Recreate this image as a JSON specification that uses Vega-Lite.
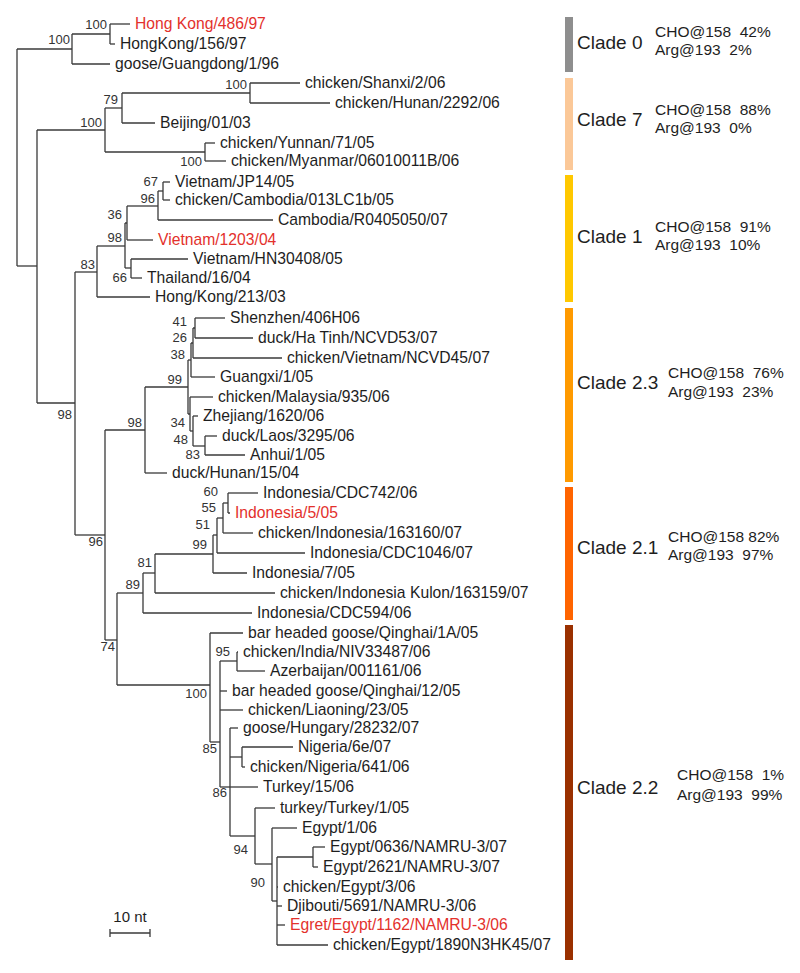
{
  "$schema": "https://vega.github.io/schema/vega-lite/v6.json",
  "width": 800,
  "height": 973,
  "padding": 0,
  "autosize": {"type": "fit", "contains": "padding"},
  "background": "white",
  "config": {"view": {"stroke": null}, "text": {"font": "Liberation Sans"}},
  "datasets": {
    "leaves": [
      {"name": "Hong Kong/486/97", "p": 110, "tip": 130, "y": 24, "hl": "y"},
      {"name": "HongKong/156/97", "p": 110, "tip": 115, "y": 44, "hl": "n"},
      {"name": "goose/Guangdong/1/96", "p": 72, "tip": 110, "y": 64, "hl": "n"},
      {"name": "chicken/Shanxi/2/06", "p": 250, "tip": 300, "y": 83, "hl": "n"},
      {"name": "chicken/Hunan/2292/06", "p": 250, "tip": 330, "y": 103, "hl": "n"},
      {"name": "Beijing/01/03", "p": 122, "tip": 155, "y": 123, "hl": "n"},
      {"name": "chicken/Yunnan/71/05", "p": 205, "tip": 215, "y": 143, "hl": "n"},
      {"name": "chicken/Myanmar/06010011B/06", "p": 205, "tip": 226, "y": 161, "hl": "n"},
      {"name": "Vietnam/JP14/05", "p": 163, "tip": 170, "y": 182, "hl": "n"},
      {"name": "chicken/Cambodia/013LC1b/05", "p": 163, "tip": 170, "y": 200, "hl": "n"},
      {"name": "Cambodia/R0405050/07", "p": 158, "tip": 273, "y": 220, "hl": "n"},
      {"name": "Vietnam/1203/04", "p": 127, "tip": 153, "y": 240, "hl": "y"},
      {"name": "Vietnam/HN30408/05", "p": 131, "tip": 188, "y": 259, "hl": "n"},
      {"name": "Thailand/16/04", "p": 131, "tip": 142, "y": 278, "hl": "n"},
      {"name": "Hong/Kong/213/03", "p": 97, "tip": 150, "y": 297, "hl": "n"},
      {"name": "Shenzhen/406H06", "p": 195, "tip": 225, "y": 318, "hl": "n"},
      {"name": "duck/Ha Tinh/NCVD53/07", "p": 195, "tip": 253, "y": 338, "hl": "n"},
      {"name": "chicken/Vietnam/NCVD45/07", "p": 193, "tip": 282, "y": 358, "hl": "n"},
      {"name": "Guangxi/1/05", "p": 191, "tip": 215, "y": 377, "hl": "n"},
      {"name": "chicken/Malaysia/935/06", "p": 190, "tip": 213, "y": 397, "hl": "n"},
      {"name": "Zhejiang/1620/06", "p": 193, "tip": 198, "y": 416, "hl": "n"},
      {"name": "duck/Laos/3295/06", "p": 205, "tip": 217, "y": 436, "hl": "n"},
      {"name": "Anhui/1/05", "p": 205, "tip": 245, "y": 455, "hl": "n"},
      {"name": "duck/Hunan/15/04", "p": 145, "tip": 167, "y": 473, "hl": "n"},
      {"name": "Indonesia/CDC742/06", "p": 228, "tip": 258, "y": 493, "hl": "n"},
      {"name": "Indonesia/5/05", "p": 228, "tip": 230, "y": 513, "hl": "y"},
      {"name": "chicken/Indonesia/163160/07", "p": 223, "tip": 253, "y": 533, "hl": "n"},
      {"name": "Indonesia/CDC1046/07", "p": 217, "tip": 305, "y": 553, "hl": "n"},
      {"name": "Indonesia/7/05", "p": 213, "tip": 247, "y": 573, "hl": "n"},
      {"name": "chicken/Indonesia Kulon/163159/07", "p": 155, "tip": 275, "y": 593, "hl": "n"},
      {"name": "Indonesia/CDC594/06", "p": 143, "tip": 252, "y": 613, "hl": "n"},
      {"name": "bar headed goose/Qinghai/1A/05", "p": 210, "tip": 243, "y": 633, "hl": "n"},
      {"name": "chicken/India/NIV33487/06", "p": 237, "tip": 238, "y": 652, "hl": "n"},
      {"name": "Azerbaijan/001161/06", "p": 237, "tip": 265, "y": 671, "hl": "n"},
      {"name": "bar headed goose/Qinghai/12/05", "p": 220, "tip": 227, "y": 691, "hl": "n"},
      {"name": "chicken/Liaoning/23/05", "p": 220, "tip": 243, "y": 710, "hl": "n"},
      {"name": "goose/Hungary/28232/07", "p": 230, "tip": 238, "y": 728, "hl": "n"},
      {"name": "Nigeria/6e/07", "p": 242, "tip": 293, "y": 747, "hl": "n"},
      {"name": "chicken/Nigeria/641/06", "p": 242, "tip": 245, "y": 767, "hl": "n"},
      {"name": "Turkey/15/06", "p": 230, "tip": 258, "y": 787, "hl": "n"},
      {"name": "turkey/Turkey/1/05", "p": 255, "tip": 275, "y": 808, "hl": "n"},
      {"name": "Egypt/1/06", "p": 272, "tip": 297, "y": 828, "hl": "n"},
      {"name": "Egypt/0636/NAMRU-3/07", "p": 313, "tip": 325, "y": 847, "hl": "n"},
      {"name": "Egypt/2621/NAMRU-3/07", "p": 313, "tip": 318, "y": 867, "hl": "n"},
      {"name": "chicken/Egypt/3/06", "p": 277, "tip": 278, "y": 887, "hl": "n"},
      {"name": "Djibouti/5691/NAMRU-3/06", "p": 277, "tip": 282, "y": 906, "hl": "n"},
      {"name": "Egret/Egypt/1162/NAMRU-3/06", "p": 277, "tip": 285, "y": 925, "hl": "y"},
      {"name": "chicken/Egypt/1890N3HK45/07", "p": 277, "tip": 328, "y": 945, "hl": "n"}
    ],
    "nodes": [
      {"x": 110, "px": 72, "top": 24, "bot": 44, "ly": 34},
      {"x": 72, "px": 17, "top": 34, "bot": 64, "ly": 49},
      {"x": 250, "px": 122, "top": 83, "bot": 103, "ly": 93},
      {"x": 122, "px": 105, "top": 93, "bot": 123, "ly": 108},
      {"x": 205, "px": 105, "top": 143, "bot": 161, "ly": 152},
      {"x": 105, "px": 37, "top": 108, "bot": 152, "ly": 130},
      {"x": 163, "px": 158, "top": 182, "bot": 200, "ly": 191},
      {"x": 158, "px": 127, "top": 191, "bot": 220, "ly": 206},
      {"x": 127, "px": 125, "top": 206, "bot": 240, "ly": 223},
      {"x": 131, "px": 125, "top": 259, "bot": 278, "ly": 268},
      {"x": 125, "px": 97, "top": 223, "bot": 268, "ly": 246},
      {"x": 97, "px": 75, "top": 246, "bot": 297, "ly": 272},
      {"x": 195, "px": 193, "top": 318, "bot": 338, "ly": 328},
      {"x": 193, "px": 191, "top": 328, "bot": 358, "ly": 343},
      {"x": 191, "px": 188, "top": 343, "bot": 377, "ly": 360},
      {"x": 205, "px": 193, "top": 436, "bot": 455, "ly": 446},
      {"x": 193, "px": 190, "top": 416, "bot": 446, "ly": 431},
      {"x": 190, "px": 188, "top": 397, "bot": 431, "ly": 414},
      {"x": 188, "px": 145, "top": 360, "bot": 414, "ly": 387},
      {"x": 145, "px": 105, "top": 387, "bot": 473, "ly": 430},
      {"x": 228, "px": 223, "top": 493, "bot": 513, "ly": 503},
      {"x": 223, "px": 217, "top": 503, "bot": 533, "ly": 518},
      {"x": 217, "px": 213, "top": 518, "bot": 553, "ly": 535},
      {"x": 213, "px": 155, "top": 535, "bot": 573, "ly": 554},
      {"x": 155, "px": 143, "top": 554, "bot": 593, "ly": 573},
      {"x": 143, "px": 117, "top": 573, "bot": 613, "ly": 593},
      {"x": 237, "px": 220, "top": 652, "bot": 671, "ly": 661},
      {"x": 242, "px": 230, "top": 747, "bot": 767, "ly": 757},
      {"x": 313, "px": 277, "top": 847, "bot": 867, "ly": 857},
      {"x": 277, "px": 272, "top": 857, "bot": 945, "ly": 901},
      {"x": 272, "px": 255, "top": 828, "bot": 901, "ly": 864},
      {"x": 255, "px": 230, "top": 808, "bot": 864, "ly": 836},
      {"x": 230, "px": 220, "top": 728, "bot": 836, "ly": 787},
      {"x": 220, "px": 210, "top": 661, "bot": 787, "ly": 742},
      {"x": 210, "px": 117, "top": 633, "bot": 742, "ly": 685},
      {"x": 117, "px": 105, "top": 593, "bot": 685, "ly": 640},
      {"x": 105, "px": 75, "top": 430, "bot": 640, "ly": 535},
      {"x": 75, "px": 37, "top": 272, "bot": 535, "ly": 403},
      {"x": 37, "px": 17, "top": 130, "bot": 403, "ly": 266},
      {"x": 17, "px": 17, "top": 49, "bot": 266, "ly": 157}
    ],
    "boot": [
      {"v": "100", "x": 107, "y": 25},
      {"v": "100", "x": 70, "y": 40},
      {"v": "100", "x": 247, "y": 85},
      {"v": "79", "x": 118, "y": 100},
      {"v": "100", "x": 102, "y": 123},
      {"v": "100", "x": 202, "y": 162},
      {"v": "67", "x": 158, "y": 182},
      {"v": "96", "x": 155, "y": 199},
      {"v": "36", "x": 122, "y": 215},
      {"v": "98", "x": 122, "y": 238},
      {"v": "83", "x": 95, "y": 265},
      {"v": "66", "x": 127, "y": 278},
      {"v": "98", "x": 72, "y": 415},
      {"v": "41", "x": 187, "y": 322},
      {"v": "26", "x": 187, "y": 338},
      {"v": "38", "x": 185, "y": 355},
      {"v": "99", "x": 182, "y": 380},
      {"v": "98", "x": 142, "y": 423},
      {"v": "34", "x": 185, "y": 423},
      {"v": "48", "x": 188, "y": 440},
      {"v": "83", "x": 200, "y": 455},
      {"v": "96", "x": 103, "y": 542},
      {"v": "60", "x": 218, "y": 492},
      {"v": "55", "x": 216, "y": 508},
      {"v": "51", "x": 210, "y": 525},
      {"v": "99", "x": 207, "y": 545},
      {"v": "81", "x": 152, "y": 563},
      {"v": "89", "x": 140, "y": 585},
      {"v": "74", "x": 115, "y": 647},
      {"v": "100", "x": 207, "y": 694},
      {"v": "95", "x": 230, "y": 652},
      {"v": "85", "x": 217, "y": 749},
      {"v": "86", "x": 227, "y": 793},
      {"v": "94", "x": 248, "y": 850},
      {"v": "90", "x": 265, "y": 883}
    ],
    "clades": [
      {"clade": "Clade 0", "x": 565, "x2": 573, "top": 17, "bot": 72, "ly": 43},
      {"clade": "Clade 7", "x": 565, "x2": 573, "top": 78, "bot": 170, "ly": 120},
      {"clade": "Clade 1", "x": 565, "x2": 573, "top": 175, "bot": 302, "ly": 237},
      {"clade": "Clade 2.3", "x": 565, "x2": 573, "top": 308, "bot": 482, "ly": 383},
      {"clade": "Clade 2.1", "x": 565, "x2": 573, "top": 487, "bot": 620, "ly": 548},
      {"clade": "Clade 2.2", "x": 565, "x2": 573, "top": 625, "bot": 960, "ly": 788}
    ],
    "notes": [
      {"t": "CHO@158\u00a0 42%", "x": 655, "y": 32},
      {"t": "Arg@193\u00a0 2%", "x": 655, "y": 50},
      {"t": "CHO@158\u00a0 88%", "x": 655, "y": 110},
      {"t": "Arg@193\u00a0 0%", "x": 655, "y": 128},
      {"t": "CHO@158\u00a0 91%", "x": 655, "y": 227},
      {"t": "Arg@193\u00a0 10%", "x": 655, "y": 245},
      {"t": "CHO@158\u00a0 76%", "x": 668, "y": 373},
      {"t": "Arg@193\u00a0 23%", "x": 668, "y": 392},
      {"t": "CHO@158 82%", "x": 668, "y": 537},
      {"t": "Arg@193\u00a0 97%", "x": 668, "y": 555},
      {"t": "CHO@158\u00a0 1%", "x": 677, "y": 775},
      {"t": "Arg@193\u00a0 99%", "x": 677, "y": 795}
    ],
    "scalebar": [
      {"x": 110, "x2": 150, "y": 933, "y2": 933},
      {"x": 110, "x2": 110, "y": 929, "y2": 937},
      {"x": 150, "x2": 150, "y": 929, "y2": 937}
    ],
    "scaletext": [{"t": "10 nt", "x": 130, "y": 917}]
  },
  "layer": [
    {
      "data": {"name": "leaves"},
      "mark": {"type": "rule", "color": "#3a3a3a", "strokeWidth": 1.3},
      "encoding": {
        "x": {"field": "p", "type": "quantitative", "scale": {"domain": [0, 800], "nice": false, "zero": false}, "axis": null},
        "x2": {"field": "tip"},
        "y": {"field": "y", "type": "quantitative", "scale": {"domain": [0, 973], "nice": false, "zero": false, "reverse": true}, "axis": null},
        "y2": {"field": "y"}
      }
    },
    {
      "data": {"name": "nodes"},
      "mark": {"type": "rule", "color": "#3a3a3a", "strokeWidth": 1.3},
      "encoding": {
        "x": {"field": "x", "type": "quantitative", "scale": {"domain": [0, 800], "nice": false, "zero": false}, "axis": null},
        "y": {"field": "top", "type": "quantitative", "scale": {"domain": [0, 973], "nice": false, "zero": false, "reverse": true}, "axis": null},
        "y2": {"field": "bot"}
      }
    },
    {
      "data": {"name": "nodes"},
      "mark": {"type": "rule", "color": "#3a3a3a", "strokeWidth": 1.3},
      "encoding": {
        "x": {"field": "px", "type": "quantitative", "scale": {"domain": [0, 800], "nice": false, "zero": false}, "axis": null},
        "x2": {"field": "x"},
        "y": {"field": "ly", "type": "quantitative", "scale": {"domain": [0, 973], "nice": false, "zero": false, "reverse": true}, "axis": null},
        "y2": {"field": "ly"}
      }
    },
    {
      "data": {"name": "leaves"},
      "mark": {"type": "text", "align": "left", "baseline": "middle", "dx": 5, "fontSize": 15.7},
      "encoding": {
        "x": {"field": "tip", "type": "quantitative", "scale": {"domain": [0, 800], "nice": false, "zero": false}, "axis": null},
        "y": {"field": "y", "type": "quantitative", "scale": {"domain": [0, 973], "nice": false, "zero": false, "reverse": true}, "axis": null},
        "text": {"field": "name"},
        "color": {"field": "hl", "type": "nominal", "scale": {"domain": ["n", "y"], "range": ["#1e1e1e", "#e3312c"]}, "legend": null}
      }
    },
    {
      "data": {"name": "boot"},
      "mark": {"type": "text", "align": "right", "baseline": "middle", "fontSize": 13, "color": "#333333"},
      "encoding": {
        "x": {"field": "x", "type": "quantitative", "scale": {"domain": [0, 800], "nice": false, "zero": false}, "axis": null},
        "y": {"field": "y", "type": "quantitative", "scale": {"domain": [0, 973], "nice": false, "zero": false, "reverse": true}, "axis": null},
        "text": {"field": "v"}
      }
    },
    {
      "data": {"name": "clades"},
      "mark": {"type": "rect"},
      "encoding": {
        "x": {"field": "x", "type": "quantitative", "scale": {"domain": [0, 800], "nice": false, "zero": false}, "axis": null},
        "x2": {"field": "x2"},
        "y": {"field": "top", "type": "quantitative", "scale": {"domain": [0, 973], "nice": false, "zero": false, "reverse": true}, "axis": null},
        "y2": {"field": "bot"},
        "fill": {"field": "clade", "type": "nominal", "scale": {"domain": ["Clade 0", "Clade 7", "Clade 1", "Clade 2.3", "Clade 2.1", "Clade 2.2"], "range": ["#8e8e8e", "#fbc898", "#ffc800", "#ff9a00", "#ff6400", "#9a3000"]}, "legend": null}
      }
    },
    {
      "data": {"name": "clades"},
      "mark": {"type": "text", "align": "left", "baseline": "middle", "fontSize": 19, "dx": 12, "color": "#1e1e1e"},
      "encoding": {
        "x": {"field": "x", "type": "quantitative", "scale": {"domain": [0, 800], "nice": false, "zero": false}, "axis": null},
        "y": {"field": "ly", "type": "quantitative", "scale": {"domain": [0, 973], "nice": false, "zero": false, "reverse": true}, "axis": null},
        "text": {"field": "clade"}
      }
    },
    {
      "data": {"name": "notes"},
      "mark": {"type": "text", "align": "left", "baseline": "middle", "fontSize": 15.5, "color": "#1e1e1e"},
      "encoding": {
        "x": {"field": "x", "type": "quantitative", "scale": {"domain": [0, 800], "nice": false, "zero": false}, "axis": null},
        "y": {"field": "y", "type": "quantitative", "scale": {"domain": [0, 973], "nice": false, "zero": false, "reverse": true}, "axis": null},
        "text": {"field": "t"}
      }
    },
    {
      "data": {"name": "scalebar"},
      "mark": {"type": "rule", "color": "#3a3a3a", "strokeWidth": 1.3},
      "encoding": {
        "x": {"field": "x", "type": "quantitative", "scale": {"domain": [0, 800], "nice": false, "zero": false}, "axis": null},
        "x2": {"field": "x2"},
        "y": {"field": "y", "type": "quantitative", "scale": {"domain": [0, 973], "nice": false, "zero": false, "reverse": true}, "axis": null},
        "y2": {"field": "y2"}
      }
    },
    {
      "data": {"name": "scaletext"},
      "mark": {"type": "text", "align": "center", "baseline": "middle", "fontSize": 15, "color": "#1e1e1e"},
      "encoding": {
        "x": {"field": "x", "type": "quantitative", "scale": {"domain": [0, 800], "nice": false, "zero": false}, "axis": null},
        "y": {"field": "y", "type": "quantitative", "scale": {"domain": [0, 973], "nice": false, "zero": false, "reverse": true}, "axis": null},
        "text": {"field": "t"}
      }
    }
  ]
}
